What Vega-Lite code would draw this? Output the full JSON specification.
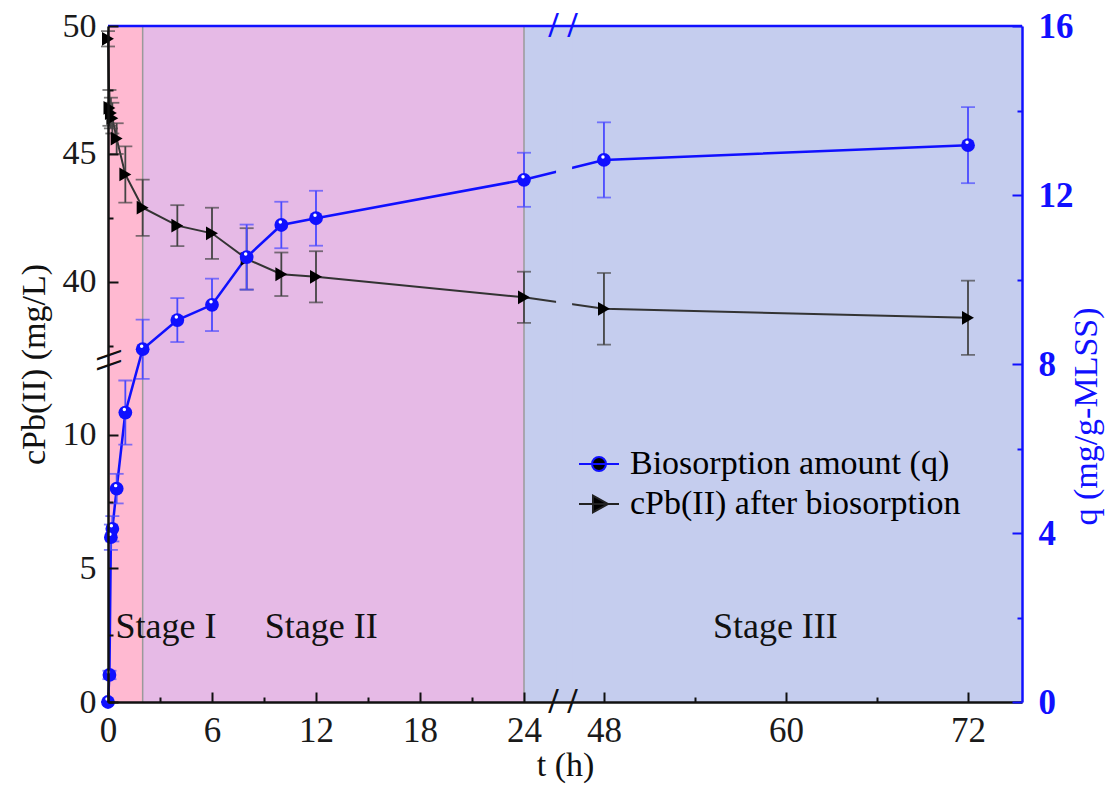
{
 "$schema": "https://vega.github.io/schema/vega-lite/v6.json",
 "width": 914, "height": 676,
 "autosize": {"type": "none"},
 "padding": {"left": 108, "top": 26, "right": 93, "bottom": 85},
 "background": "white",
 "config": {"font": "Liberation Serif", "view": {"stroke": null}},
 "datasets": {
  "cdata": [
   {"t": 0, "c": 49.5, "e": 0.3, "series": "cPb(II) after biosorption"},
   {"t": 0.083, "c": 46.8, "e": 0.7, "series": "cPb(II) after biosorption"},
   {"t": 0.167, "c": 46.6, "e": 0.6, "series": "cPb(II) after biosorption"},
   {"t": 0.25, "c": 46.4, "e": 0.6, "series": "cPb(II) after biosorption"},
   {"t": 0.5, "c": 45.6, "e": 0.6, "series": "cPb(II) after biosorption"},
   {"t": 1, "c": 44.2, "e": 1.1, "series": "cPb(II) after biosorption"},
   {"t": 2, "c": 42.9, "e": 1.1, "series": "cPb(II) after biosorption"},
   {"t": 4, "c": 42.2, "e": 0.8, "series": "cPb(II) after biosorption"},
   {"t": 6, "c": 41.9, "e": 1.0, "series": "cPb(II) after biosorption"},
   {"t": 8, "c": 40.9, "e": 1.2, "series": "cPb(II) after biosorption"},
   {"t": 10, "c": 40.3, "e": 0.85, "series": "cPb(II) after biosorption"},
   {"t": 12, "c": 40.2, "e": 1.0, "series": "cPb(II) after biosorption"},
   {"t": 24, "c": 39.4, "e": 1.0, "series": "cPb(II) after biosorption"},
   {"t": 48, "c": 38.95, "e": 1.4, "series": "cPb(II) after biosorption"},
   {"t": 72, "c": 38.6, "e": 1.45, "series": "cPb(II) after biosorption"}
  ],
  "qdata": [
   {"t": 0, "q": 0, "e": 0, "series": "Biosorption amount (q)"},
   {"t": 0.083, "q": 0.64, "e": 0.1, "series": "Biosorption amount (q)"},
   {"t": 0.167, "q": 3.9, "e": 0.3, "series": "Biosorption amount (q)"},
   {"t": 0.25, "q": 4.1, "e": 0.3, "series": "Biosorption amount (q)"},
   {"t": 0.5, "q": 5.05, "e": 0.35, "series": "Biosorption amount (q)"},
   {"t": 1, "q": 6.85, "e": 0.76, "series": "Biosorption amount (q)"},
   {"t": 2, "q": 8.35, "e": 0.7, "series": "Biosorption amount (q)"},
   {"t": 4, "q": 9.04, "e": 0.52, "series": "Biosorption amount (q)"},
   {"t": 6, "q": 9.4, "e": 0.62, "series": "Biosorption amount (q)"},
   {"t": 8, "q": 10.53, "e": 0.77, "series": "Biosorption amount (q)"},
   {"t": 10, "q": 11.29, "e": 0.55, "series": "Biosorption amount (q)"},
   {"t": 12, "q": 11.45, "e": 0.65, "series": "Biosorption amount (q)"},
   {"t": 24, "q": 12.36, "e": 0.64, "series": "Biosorption amount (q)"},
   {"t": 48, "q": 12.83, "e": 0.89, "series": "Biosorption amount (q)"},
   {"t": 72, "q": 13.18, "e": 0.9, "series": "Biosorption amount (q)"}
  ]
 },
 "encoding": {
  "x": {"field": "t", "type": "quantitative",
   "scale": {"domain": [0, 26.25, 45.3, 75.56], "range": [0, 455, 455, 914], "zero": false, "nice": false},
   "axis": {"values": [0, 3, 6, 9, 12, 15, 18, 21, 24, 48, 54, 60, 66, 72],
    "labelExpr": "indexof([0,6,12,18,24,48,60,72], datum.value) >= 0 ? datum.label : ''",
    "title": "t (h)", "titleFontSize": 34, "titleFontWeight": "normal", "titleColor": "#111", "titlePadding": 0,
    "labelFontSize": 35, "labelColor": "#1a1a1a", "labelPadding": 21, "labelFlush": false, "labelOverlap": false,
    "domainColor": "#111", "domainWidth": 2.5, "tickColor": "#111", "tickWidth": 2, "tickSize": -10,
    "tickDash": {"condition": {"test": "indexof([0,6,12,18,24,48,60,72], datum.value) >= 0", "value": []}, "value": [5, 20]},
    "grid": false, "zindex": 1}}
 },
 "resolve": {"scale": {"y": "independent"}},
 "layer": [
  {"data": {"values": [{"stage": "I", "t": 0, "t2": 2}, {"stage": "II", "t": 2, "t2": 24}, {"stage": "III", "t": 24, "t2": 75.56}]},
   "mark": {"type": "rect"},
   "encoding": {"x2": {"field": "t2"}, "fill": {"field": "stage", "type": "nominal", "scale": {"domain": ["I", "II", "III"], "range": ["#ffb9d1", "#e6bae6", "#c5cdee"]}, "legend": null}}},
  {"data": {"values": [{"t": 2}, {"t": 24}]},
   "mark": {"type": "rule", "color": "#9a9a9a", "strokeWidth": 1.5},
   "encoding": {}},
  {"data": {"name": "cdata"},
   "mark": {"type": "line", "color": "#333333", "strokeWidth": 2},
   "encoding": {"y": {"field": "c", "type": "quantitative",
    "scale": {"domain": [0, 12.8, 36.95, 50], "range": [676, 334, 334, 0], "zero": false, "nice": false},
    "axis": {"orient": "left", "values": [0, 2.5, 5, 7.5, 10, 37.5, 40, 42.5, 45, 47.5, 50],
     "labelExpr": "datum.value % 5 === 0 ? datum.label : ''",
     "title": "cPb(II) (mg/L)", "titleFontSize": 34, "titleFontWeight": "normal", "titleColor": "#111",
     "titleAngle": -90, "titleX": -74, "titleY": 338, "titleAlign": "center", "titleBaseline": "middle",
     "labelFontSize": 34, "labelColor": "#1a1a1a", "labelPadding": 22, "labelFlush": false, "labelOverlap": false,
     "domainColor": "#111", "domainWidth": 2.5, "tickColor": "#111", "tickWidth": 2, "tickSize": -10,
     "tickDash": {"condition": {"test": "datum.value % 5 === 0", "value": []}, "value": [5, 20]},
     "grid": false, "zindex": 1}}}},
  {"data": {"name": "qdata"},
   "mark": {"type": "line", "color": "#1010ff", "strokeWidth": 2.5},
   "encoding": {"y": {"field": "q", "type": "quantitative",
    "scale": {"domain": [0, 16], "zero": false, "nice": false},
    "axis": {"orient": "right", "values": [0, 2, 4, 6, 8, 10, 12, 14, 16],
     "labelExpr": "datum.value % 4 === 0 ? datum.label : ''",
     "title": "q (mg/g-MLSS)", "titleFontSize": 34, "titleFontWeight": "normal", "titleColor": "#1010ff",
     "titleAngle": -90, "titleX": 64, "titleY": 390, "titleAlign": "center", "titleBaseline": "middle",
     "labelFontSize": 35, "labelFontWeight": "bold", "labelColor": "#1010ff", "labelPadding": 26, "labelFlush": false, "labelOverlap": false,
     "domainColor": "#1010ff", "domainWidth": 2.5, "tickColor": "#1010ff", "tickWidth": 2, "tickSize": -10,
     "tickDash": {"condition": {"test": "datum.value % 4 === 0", "value": []}, "value": [5, 20]},
     "grid": false, "zindex": 1}}}},
  {"data": {"values": [{"t": 25.85, "t2": 45.9}]},
   "mark": {"type": "rect", "color": "#c5cdee"},
   "encoding": {"x2": {"field": "t2"}}},
  {"data": {"name": "cdata"},
   "mark": {"type": "errorbar", "color": "#444444", "thickness": 1.8, "ticks": {"size": 14, "thickness": 1.8, "color": "#444444"}},
   "encoding": {"y": {"field": "c", "type": "quantitative", "scale": {"domain": [0, 12.8, 36.95, 50], "range": [676, 334, 334, 0], "zero": false, "nice": false}, "axis": null},
    "yError": {"field": "e"}}},
  {"data": {"name": "qdata"},
   "mark": {"type": "errorbar", "color": "#4a4aff", "thickness": 1.8, "ticks": {"size": 14, "thickness": 1.8, "color": "#4a4aff"}},
   "encoding": {"y": {"field": "q", "type": "quantitative", "scale": {"domain": [0, 16], "zero": false, "nice": false}, "axis": null},
    "yError": {"field": "e"}}},
  {"data": {"name": "cdata"},
   "mark": {"type": "point", "shape": "triangle-right", "filled": true, "size": 190, "opacity": 1, "color": "#000000"},
   "encoding": {"y": {"field": "c", "type": "quantitative", "scale": {"domain": [0, 12.8, 36.95, 50], "range": [676, 334, 334, 0], "zero": false, "nice": false}, "axis": null}}},
  {"data": {"name": "qdata"},
   "mark": {"type": "point", "shape": "circle", "filled": true, "size": 190, "opacity": 1, "color": "#1010ff"},
   "encoding": {"y": {"field": "q", "type": "quantitative", "scale": {"domain": [0, 16], "zero": false, "nice": false}, "axis": null}}},
  {"data": {"name": "qdata"},
   "mark": {"type": "point", "shape": "circle", "filled": true, "size": 12, "color": "white", "opacity": 1, "yOffset": -3, "xOffset": -1},
   "encoding": {"y": {"field": "q", "type": "quantitative", "scale": {"domain": [0, 16], "zero": false, "nice": false}, "axis": null}}},
  {"data": {"name": "cdata"},
   "transform": [{"filter": "datum.t > 1000"}],
   "mark": {"type": "point", "filled": true, "strokeWidth": 2, "size": 1600, "opacity": 1},
   "encoding": {
    "fill": {"field": "series", "type": "nominal",
     "scale": {"domain": ["Biosorption amount (q)", "cPb(II) after biosorption"], "range": ["#1010ff", "#000000"]},
     "legend": {"orient": "none", "legendX": 470, "legendY": 417, "title": null, "padding": 0,
      "labelFontSize": 34, "labelFont": "Liberation Serif", "labelOffset": 10, "labelLimit": 800, "rowPadding": 2,
      "symbolSize": 1600, "symbolStrokeWidth": 2,
      "encode": {"labels": {"update": {"fill": {"signal": "datum.value === 'Biosorption amount (q)' ? '#1010ff' : '#000000'"}}}}}},
    "stroke": {"field": "series", "type": "nominal",
     "scale": {"domain": ["Biosorption amount (q)", "cPb(II) after biosorption"], "range": ["#1010ff", "#222222"]},
     "legend": {"orient": "none", "legendX": 470, "legendY": 417, "title": null, "padding": 0,
      "labelFontSize": 34, "labelFont": "Liberation Serif", "labelOffset": 10, "labelLimit": 800, "rowPadding": 2,
      "symbolSize": 1600, "symbolStrokeWidth": 2,
      "encode": {"labels": {"update": {"fill": {"signal": "datum.value === 'Biosorption amount (q)' ? '#1010ff' : '#000000'"}}}}}},
    "shape": {"field": "series", "type": "nominal",
     "scale": {"domain": ["Biosorption amount (q)", "cPb(II) after biosorption"], "range": ["M-1,0H1M-0.35,0A0.35,0.35 0 1 1 0.35,0A0.35,0.35 0 1 1 -0.35,0Z", "M-1,0H1M-0.3,-0.42L0.45,0L-0.3,0.42Z"]},
     "legend": {"orient": "none", "legendX": 470, "legendY": 417, "title": null, "padding": 0,
      "labelFontSize": 34, "labelFont": "Liberation Serif", "labelOffset": 10, "labelLimit": 800, "rowPadding": 2,
      "symbolSize": 1600, "symbolStrokeWidth": 2,
      "encode": {"labels": {"update": {"fill": {"signal": "datum.value === 'Biosorption amount (q)' ? '#1010ff' : '#000000'"}}}}}}}},
  {"data": {"values": [{"t": 3.35, "c": 2.8, "label": "Stage I"}, {"t": 12.3, "c": 2.8, "label": "Stage II"}, {"t": 59.3, "c": 2.8, "label": "Stage III"}]},
   "mark": {"type": "text", "fontSize": 36, "color": "#111", "align": "center", "baseline": "middle"},
   "encoding": {"y": {"field": "c", "type": "quantitative", "scale": {"domain": [0, 12.8, 36.95, 50], "range": [676, 334, 334, 0], "zero": false, "nice": false}, "axis": null},
    "text": {"field": "label"}}},
  {"data": {"values": [{"c": 50}]},
   "mark": {"type": "rule", "color": "#1010ff", "strokeWidth": 2.5},
   "encoding": {"x": null, "y": {"field": "c", "type": "quantitative", "scale": {"domain": [0, 12.8, 36.95, 50], "range": [676, 334, 334, 0], "zero": false, "nice": false}, "axis": null}}},
  {"data": {"values": [{"t": 26.25, "c": 50, "label": "/ /"}]},
   "mark": {"type": "text", "fontSize": 36, "fontWeight": "bold", "color": "#1010ff", "align": "center", "baseline": "middle"},
   "encoding": {"y": {"field": "c", "type": "quantitative", "scale": {"domain": [0, 12.8, 36.95, 50], "range": [676, 334, 334, 0], "zero": false, "nice": false}, "axis": null},
    "text": {"field": "label"}}},
  {"data": {"values": [{"t": 26.25, "c": 0, "label": "/ /"}]},
   "mark": {"type": "text", "fontSize": 36, "fontWeight": "bold", "color": "#111", "align": "center", "baseline": "middle"},
   "encoding": {"y": {"field": "c", "type": "quantitative", "scale": {"domain": [0, 12.8, 36.95, 50], "range": [676, 334, 334, 0], "zero": false, "nice": false}, "axis": null},
    "text": {"field": "label"}}},
  {"data": {"values": [{"t": 0, "c": 12.8, "label": "\\\\"}]},
   "mark": {"type": "text", "fontSize": 36, "fontWeight": "bold", "color": "#111", "align": "center", "baseline": "middle", "angle": 90},
   "encoding": {"y": {"field": "c", "type": "quantitative", "scale": {"domain": [0, 12.8, 36.95, 50], "range": [676, 334, 334, 0], "zero": false, "nice": false}, "axis": null},
    "text": {"field": "label"}}}
 ]
}
